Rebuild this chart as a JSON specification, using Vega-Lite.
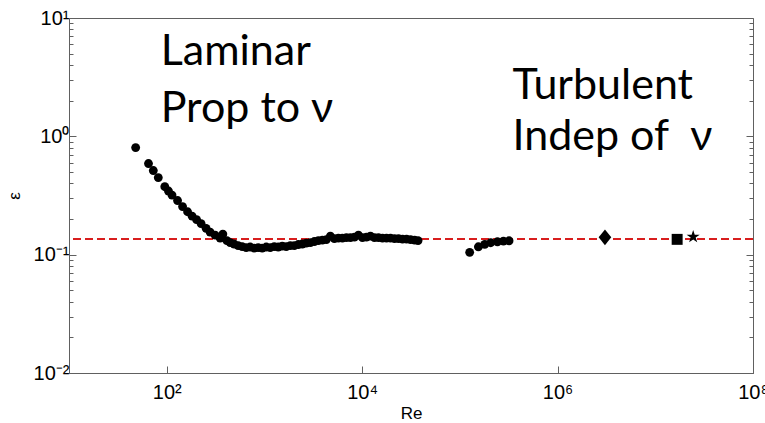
{
  "$schema": "https://vega.github.io/schema/vega-lite/v6.json",
  "width": 684,
  "height": 355,
  "autosize": {"type": "none"},
  "padding": {"left": 69, "top": 18, "right": 12, "bottom": 50},
  "background": "white",
  "config": {"view": {"stroke": "#606060", "strokeWidth": 1}, "font": "Liberation Sans"},
  "datasets": {
    "circles": [
      {"Re": 48.1, "eps": 0.804},
      {"Re": 65.1, "eps": 0.589},
      {"Re": 72.9, "eps": 0.514},
      {"Re": 82.0, "eps": 0.448},
      {"Re": 95.6, "eps": 0.375},
      {"Re": 104.3, "eps": 0.345},
      {"Re": 113.3, "eps": 0.319},
      {"Re": 129.1, "eps": 0.2867},
      {"Re": 145.3, "eps": 0.255},
      {"Re": 163.5, "eps": 0.2305},
      {"Re": 181.8, "eps": 0.212},
      {"Re": 202.1, "eps": 0.198},
      {"Re": 224.8, "eps": 0.1832},
      {"Re": 253.0, "eps": 0.1669},
      {"Re": 278.0, "eps": 0.1552},
      {"Re": 312.8, "eps": 0.1464},
      {"Re": 352.2, "eps": 0.1381},
      {"Re": 375.3, "eps": 0.1493},
      {"Re": 412.6, "eps": 0.1316},
      {"Re": 446.0, "eps": 0.1266},
      {"Re": 490.0, "eps": 0.123},
      {"Re": 538.6, "eps": 0.1194},
      {"Re": 592.0, "eps": 0.1171},
      {"Re": 650.8, "eps": 0.1148},
      {"Re": 715.1, "eps": 0.116},
      {"Re": 786.0, "eps": 0.1137},
      {"Re": 864.0, "eps": 0.1148},
      {"Re": 949.3, "eps": 0.1137},
      {"Re": 1043.5, "eps": 0.116},
      {"Re": 1147, "eps": 0.1148},
      {"Re": 1260.6, "eps": 0.1171},
      {"Re": 1385.6, "eps": 0.116},
      {"Re": 1523, "eps": 0.1182},
      {"Re": 1673.6, "eps": 0.1171},
      {"Re": 1839.5, "eps": 0.1194},
      {"Re": 2021.5, "eps": 0.1194},
      {"Re": 2222.6, "eps": 0.1218},
      {"Re": 2442.6, "eps": 0.123},
      {"Re": 2684.7, "eps": 0.1253},
      {"Re": 2950.7, "eps": 0.1266},
      {"Re": 3243.6, "eps": 0.1291},
      {"Re": 3564.6, "eps": 0.1316},
      {"Re": 3916.7, "eps": 0.1328},
      {"Re": 4303, "eps": 0.1341},
      {"Re": 4730.5, "eps": 0.1436},
      {"Re": 5197, "eps": 0.1368},
      {"Re": 5713, "eps": 0.1381},
      {"Re": 6280, "eps": 0.1381},
      {"Re": 6902, "eps": 0.1394},
      {"Re": 7586, "eps": 0.1394},
      {"Re": 8337, "eps": 0.1409},
      {"Re": 9165, "eps": 0.1464},
      {"Re": 10072, "eps": 0.1394},
      {"Re": 11070, "eps": 0.1409},
      {"Re": 12167, "eps": 0.1436},
      {"Re": 13373, "eps": 0.1394},
      {"Re": 14697, "eps": 0.1394},
      {"Re": 16154, "eps": 0.1381},
      {"Re": 17753, "eps": 0.1381},
      {"Re": 19514, "eps": 0.1381},
      {"Re": 21447, "eps": 0.1368},
      {"Re": 23571, "eps": 0.1368},
      {"Re": 25906, "eps": 0.1355},
      {"Re": 28475, "eps": 0.1355},
      {"Re": 31295, "eps": 0.1341},
      {"Re": 34394, "eps": 0.1328},
      {"Re": 37350, "eps": 0.1316},
      {"Re": 126070, "eps": 0.1046},
      {"Re": 154800, "eps": 0.1166},
      {"Re": 179700, "eps": 0.1222},
      {"Re": 206900, "eps": 0.1261},
      {"Re": 242400, "eps": 0.1285},
      {"Re": 279400, "eps": 0.1303},
      {"Re": 318900, "eps": 0.131}
    ],
    "diamond": [{"Re": 3055000, "eps": 0.14}],
    "square": [{"Re": 16740000, "eps": 0.1347}],
    "star": [{"Re": 24420000, "eps": 0.1416}],
    "notes": [
      {"Re": 86.8, "eps": 4.006, "label": "Laminar"},
      {"Re": 86.8, "eps": 1.329, "label": "Prop to ν"},
      {"Re": 345600, "eps": 2.055, "label": "Turbulent"},
      {"Re": 345600, "eps": 0.766, "label": "Indep of \u00a0ν"}
    ]
  },
  "layer": [
    {
      "data": {"values": [{}]},
      "mark": {"type": "rule", "color": "#d81e1e", "strokeDash": [8, 4], "strokeWidth": 2},
      "encoding": {"y": {"datum": 0.1355, "type": "quantitative", "scale": {"type": "log", "domain": [0.01, 10], "nice": false}, "axis": null}}
    },
    {
      "data": {"name": "circles"},
      "mark": {"type": "point", "shape": "circle", "filled": true, "opacity": 1, "color": "black", "size": 78, "strokeWidth": 0},
      "encoding": {
        "x": {
          "field": "Re", "type": "quantitative",
          "scale": {"type": "log", "domain": [10, 100000000], "nice": false},
          "axis": {
            "orient": "bottom", "values": [100, 10000, 1000000, 100000000],
            "labelExpr": "datum.value==100?'10²':datum.value==10000?'10⁴':datum.value==1000000?'10⁶':'10⁸'",
            "tickSize": -7, "tickColor": "#606060", "domainColor": "#606060",
            "labelFont": "Liberation Sans", "labelFontSize": 20, "labelColor": "black",
            "labelPadding": 16, "labelFlush": false, "labelOverlap": false, "grid": false,
            "title": "Re", "titleFont": "Liberation Sans", "titleFontSize": 17, "titleFontWeight": "normal",
            "titleColor": "black", "titlePadding": 3
          }
        },
        "y": {
          "field": "eps", "type": "quantitative",
          "scale": {"type": "log", "domain": [0.01, 10], "nice": false},
          "axis": {
            "orient": "left",
            "values": [0.01, 0.02, 0.03, 0.04, 0.05, 0.06, 0.07, 0.08, 0.09, 0.1, 0.2, 0.3, 0.4, 0.5, 0.6, 0.7, 0.8, 0.9, 1, 2, 3, 4, 5, 6, 7, 8, 9, 10],
            "labelExpr": "datum.value==0.01?'10⁻²':datum.value==0.1?'10⁻¹':datum.value==1?'10⁰':datum.value==10?'10¹':''",
            "tickSize": {"condition": {"test": "datum.value==0.01||datum.value==0.1||datum.value==1||datum.value==10", "value": -7}, "value": -4},
            "tickColor": "#606060", "domainColor": "#606060",
            "labelFont": "Liberation Sans", "labelFontSize": 20, "labelColor": "black",
            "labelPadding": 7, "labelFlush": false, "labelOverlap": false, "grid": false,
            "title": "ε", "titleFont": "Liberation Sans", "titleFontSize": 17, "titleFontWeight": "normal",
            "titleColor": "black", "titlePadding": 10
          }
        }
      }
    },
    {
      "data": {"name": "diamond"},
      "mark": {"type": "point", "shape": "M-0.8,0L0,-1L0.8,0L0,1Z", "filled": true, "opacity": 1, "color": "black", "size": 250, "strokeWidth": 0},
      "encoding": {
        "x": {"field": "Re", "type": "quantitative"},
        "y": {"field": "eps", "type": "quantitative", "axis": null}
      }
    },
    {
      "data": {"name": "square"},
      "mark": {"type": "point", "shape": "square", "filled": true, "opacity": 1, "color": "black", "size": 120, "strokeWidth": 0},
      "encoding": {
        "x": {"field": "Re", "type": "quantitative"},
        "y": {"field": "eps", "type": "quantitative", "axis": null}
      }
    },
    {
      "data": {"name": "star"},
      "mark": {"type": "point", "shape": "M0,-1L0.225,-0.31L0.951,-0.309L0.363,0.118L0.588,0.809L0,0.382L-0.588,0.809L-0.363,0.118L-0.951,-0.309L-0.225,-0.31Z", "filled": true, "opacity": 1, "color": "black", "size": 190, "strokeWidth": 0},
      "encoding": {
        "x": {"field": "Re", "type": "quantitative"},
        "y": {
          "field": "eps", "type": "quantitative",
          "axis": {
            "orient": "right",
            "values": [0.01, 0.02, 0.03, 0.04, 0.05, 0.06, 0.07, 0.08, 0.09, 0.1, 0.2, 0.3, 0.4, 0.5, 0.6, 0.7, 0.8, 0.9, 1, 2, 3, 4, 5, 6, 7, 8, 9, 10],
            "labels": false, "domain": false, "grid": false, "title": null,
            "tickSize": {"condition": {"test": "datum.value==0.01||datum.value==0.1||datum.value==1||datum.value==10", "value": -7}, "value": -4},
            "tickColor": "#606060"
          }
        }
      }
    },
    {
      "data": {"name": "notes"},
      "mark": {"type": "text", "font": "Lato", "fontSize": 43, "align": "left", "baseline": "alphabetic", "color": "black"},
      "encoding": {
        "x": {"field": "Re", "type": "quantitative"},
        "y": {"field": "eps", "type": "quantitative", "axis": null},
        "text": {"field": "label", "type": "nominal"}
      }
    }
  ],
  "resolve": {"axis": {"y": "independent"}}
}
